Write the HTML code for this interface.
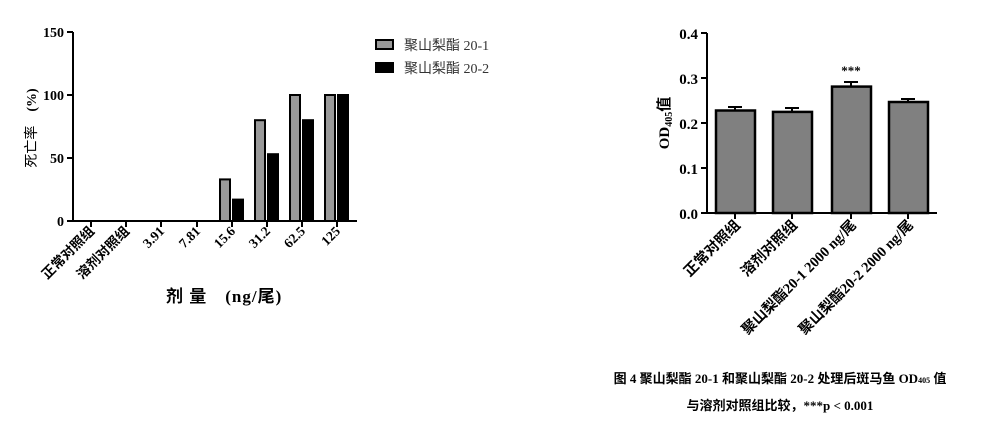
<!DOCTYPE html><html><head><meta charset="utf-8"><style>body{margin:0;background:#fff}svg{display:block}text{font-family:"Liberation Serif","Noto Sans CJK SC",serif}</style></head><body>
<svg width="1000" height="438" viewBox="0 0 1000 438" xmlns="http://www.w3.org/2000/svg">
<g stroke="#000" stroke-width="2" fill="none">
<line x1="73" y1="32" x2="73" y2="222"/><line x1="72" y1="221" x2="357" y2="221"/>
<line x1="67" y1="32" x2="73" y2="32"/><line x1="67" y1="95" x2="73" y2="95"/><line x1="67" y1="158" x2="73" y2="158"/><line x1="67" y1="221" x2="73" y2="221"/>
<line x1="91" y1="221" x2="91" y2="227"/><line x1="126" y1="221" x2="126" y2="227"/><line x1="161" y1="221" x2="161" y2="227"/><line x1="197" y1="221" x2="197" y2="227"/><line x1="232" y1="221" x2="232" y2="227"/><line x1="267" y1="221" x2="267" y2="227"/><line x1="302" y1="221" x2="302" y2="227"/><line x1="337" y1="221" x2="337" y2="227"/>
</g>
<g stroke="#000" stroke-width="2">
<rect x="220" y="179.4" width="10" height="41.6" fill="#999"/><rect x="233" y="199.6" width="10" height="21.4" fill="#000"/>
<rect x="255" y="120.2" width="10" height="100.8" fill="#999"/><rect x="268" y="154.2" width="10" height="66.8" fill="#000"/>
<rect x="290" y="95" width="10" height="126" fill="#999"/><rect x="303" y="120.2" width="10" height="100.8" fill="#000"/>
<rect x="325" y="95" width="10" height="126" fill="#999"/><rect x="338" y="95" width="10" height="126" fill="#000"/>
<rect x="376" y="40" width="17" height="9" fill="#999"/><rect x="376" y="63" width="17" height="9" fill="#000"/>
</g>
<g font-size="14" font-weight="bold" text-anchor="end">
<text x="64" y="37">150</text><text x="64" y="100">100</text><text x="64" y="163">50</text><text x="64" y="226">0</text>
</g>
<g font-size="13.5" font-weight="bold" text-anchor="end">
<text transform="translate(95,232) rotate(-45)">正常对照组</text>
<text transform="translate(130,232) rotate(-45)">溶剂对照组</text>
<text transform="translate(165,232) rotate(-45)">3.91</text>
<text transform="translate(201,232) rotate(-45)">7.81</text>
<text transform="translate(236,232) rotate(-45)">15.6</text>
<text transform="translate(271,232) rotate(-45)">31.2</text>
<text transform="translate(306,232) rotate(-45)">62.5</text>
<text transform="translate(341,232) rotate(-45)">125</text>
</g>
<text transform="translate(36,128) rotate(-90)" font-size="14" text-anchor="middle">死亡率　<tspan font-weight="bold">(%)</tspan></text>
<text x="166" y="302" font-size="17" font-weight="bold" letter-spacing="1">剂 量　(ng/尾)</text>
<text x="404" y="50" font-size="14" fill="#333">聚山梨酯 20-1</text>
<text x="404" y="73" font-size="14" fill="#333">聚山梨酯 20-2</text>
<g stroke="#000" stroke-width="2" fill="none">
<line x1="707" y1="33" x2="707" y2="214"/><line x1="706" y1="213" x2="937" y2="213"/>
<line x1="701" y1="33" x2="707" y2="33"/><line x1="701" y1="78" x2="707" y2="78"/><line x1="701" y1="123" x2="707" y2="123"/><line x1="701" y1="168" x2="707" y2="168"/><line x1="701" y1="213" x2="707" y2="213"/>
<line x1="735" y1="213" x2="735" y2="219"/><line x1="792" y1="213" x2="792" y2="219"/><line x1="851" y1="213" x2="851" y2="219"/><line x1="908" y1="213" x2="908" y2="219"/>
<path d="M735 110V107M728 107H742M792 111V108M785 108H799M851 86V82M844 82H858M908 101V99M901 99H915"/>
</g>
<g stroke="#000" stroke-width="2.5" fill="#808080">
<rect x="716" y="110.5" width="39" height="102.5"/><rect x="773" y="111.9" width="39" height="101.1"/><rect x="832" y="86.6" width="39" height="126.4"/><rect x="889" y="102" width="39" height="111"/>
</g>
<text x="851" y="75" font-size="13" text-anchor="middle" font-weight="bold">***</text>
<g font-size="15" font-weight="bold" text-anchor="end">
<text x="698" y="39">0.4</text><text x="698" y="84">0.3</text><text x="698" y="129">0.2</text><text x="698" y="174">0.1</text><text x="698" y="219">0.0</text>
</g>
<text transform="translate(669,123) rotate(-90)" font-size="15" font-weight="bold" text-anchor="middle">OD<tspan font-size="10" dy="3">405</tspan><tspan dy="-3">值</tspan></text>
<g font-size="14.5" font-weight="bold" text-anchor="end">
<text transform="translate(741,226) rotate(-45)">正常对照组</text>
<text transform="translate(798,226) rotate(-45)">溶剂对照组</text>
<text transform="translate(857,226) rotate(-45)">聚山梨酯20-1 2000 ng/尾</text>
<text transform="translate(914,226) rotate(-45)">聚山梨酯20-2 2000 ng/尾</text>
</g>
<text x="780" y="383" font-size="13" font-weight="bold" text-anchor="middle">图 4  聚山梨酯 20-1 和聚山梨酯 20-2 处理后斑马鱼 OD<tspan font-size="8">405</tspan> 值</text>
<text x="780" y="410" font-size="13" font-weight="bold" text-anchor="middle">与溶剂对照组比较，***p &lt; 0.001</text>
</svg></body></html>
